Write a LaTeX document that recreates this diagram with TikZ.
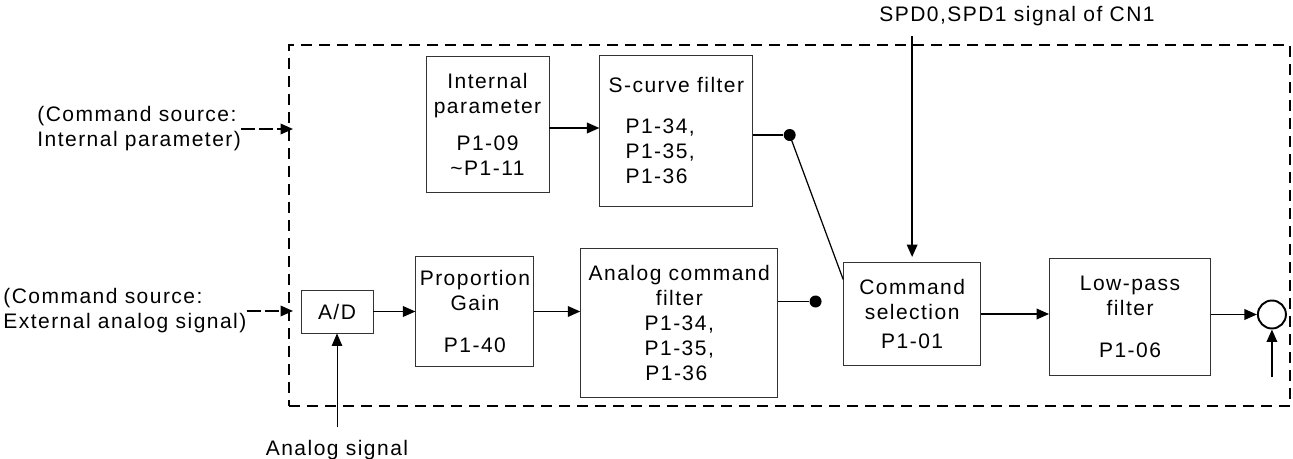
\documentclass[tikz,border=0pt]{standalone}
\usepackage{fontspec}
\setmainfont{Liberation Sans}[LetterSpace=7]
\usepackage{tikz}
\usetikzlibrary{arrows.meta,positioning}

\begin{document}
\begin{tikzpicture}[
  font=\fontsize{11.95pt}{14.2pt}\selectfont,
  block/.style={rectangle, draw=black!80, line width=0.5pt, align=center, inner sep=0pt},
  arr/.style={-{Triangle[length=0.25cm, width=0.21cm]}, line width=1.1pt},
  srcarr/.style={arr, dash pattern=on 0.28cm off 0.08cm},
  thinarr/.style={-{Triangle[length=0.25cm, width=0.21cm]}, line width=0.5pt},
  junction/.style={circle, fill=black, inner sep=0pt, minimum size=0.24cm},
  txt/.style={inner sep=0pt, align=left},
]
  \useasboundingbox (0,0) rectangle (25.86,-9.18);

  \node[draw, line width=1.1pt, dash pattern=on 0.22cm off 0.14cm, inner sep=0pt,
    minimum width=20.02cm, minimum height=7.22cm] (frame) at (15.79,-4.51) {};

  % internal command path
  \node[block, minimum width=2.46cm, minimum height=2.72cm] (intp) at (9.75,-2.48)
    {Internal\\parameter\\[0.24cm]P1-09\\\textasciitilde P1-11};
  \node[block, align=left, minimum width=3.06cm, minimum height=3.02cm,
    right=1.0cm of intp, yshift=-0.13cm] (scurve)
    {S-curve filter\\[0.32cm]\hspace*{0.34cm}P1-34,\\\hspace*{0.34cm}P1-35,\\\hspace*{0.34cm}P1-36};
  \node[junction, right=0.6cm of scurve, yshift=-0.09cm] (sdot) {};

  % analog command path
  \node[block, minimum width=1.44cm, minimum height=0.86cm] (ad) at (6.74,-6.23) {A/D};
  \node[block, minimum width=2.36cm, minimum height=2.2cm, right=0.84cm of ad] (prop)
    {Proportion\\Gain\\[0.34cm]P1-40};
  \node[block, minimum width=3.94cm, minimum height=2.98cm, right=0.92cm of prop, yshift=-0.23cm] (acf)
    {Analog command\\filter\\P1-34,\\P1-35,\\P1-36\hphantom{,}};
  \node[junction, right=0.62cm of acf, yshift=0.43cm] (adot) {};
  \node[block, minimum width=2.74cm, minimum height=2.06cm, right=1.3cm of acf, yshift=0.18cm] (cmdsel)
    {Command\\selection\\[0.1cm]P1-01};
  \node[block, minimum width=3.22cm, minimum height=2.34cm, right=1.36cm of cmdsel, yshift=-0.06cm] (lpf)
    {Low-pass\\filter\\[0.34cm]P1-06};
  \node[circle, draw, line width=1.1pt, inner sep=0pt, minimum size=0.56cm,
    right=0.92cm of lpf, yshift=0.05cm] (sum) {};
  \coordinate[below=0.96cm of sum] (sumin);

  % outside texts
  \node[txt, anchor=west] (intsrc) at (0.74,-2.58) {(Command source:\\Internal parameter)};
  \node[txt, anchor=west] (extsrc) at (0.06,-6.22) {(Command source:\\External analog signal)};
  \node[txt] (spd) at (20.34,-0.32) {SPD0,SPD1 signal of CN1};
  \node[txt, below=2.12cm of ad] (asig) {Analog signal};

  \draw[srcarr] (intsrc.east) -- ([xshift=0.1cm]intsrc.east -| frame.west);
  \draw[srcarr] (extsrc.east) -- ([xshift=0.1cm]extsrc.east -| frame.west);
  \draw[arr] ([yshift=-0.08cm]intp.east) -- ([yshift=-0.08cm]intp.east -| scurve.west);
  \draw[line width=1.1pt] (scurve.east |- sdot) -- (sdot);
  \draw[line width=0.7pt] (sdot.center) -- ([yshift=0.69cm]cmdsel.west);
  \draw[arr] (ad.east) -- (prop.west);
  \draw[arr] (prop.east) -- (prop.east -| acf.west);
  \draw[line width=1.1pt] (acf.east |- adot) -- (adot);
  \draw[arr] (cmdsel.east) -- (cmdsel.east -| lpf.west);
  \draw[arr] (lpf.east |- sum.west) -- (sum.west);
  \draw[arr] (sumin) -- (sum.south);
  \draw[arr, shorten <=0.2cm, shorten >=0.1cm] (spd.south -| cmdsel.north) -- (cmdsel.north);
  \draw[thinarr, shorten <=0.24cm] (asig.north) -- (ad.south);
\end{tikzpicture}
\end{document}
